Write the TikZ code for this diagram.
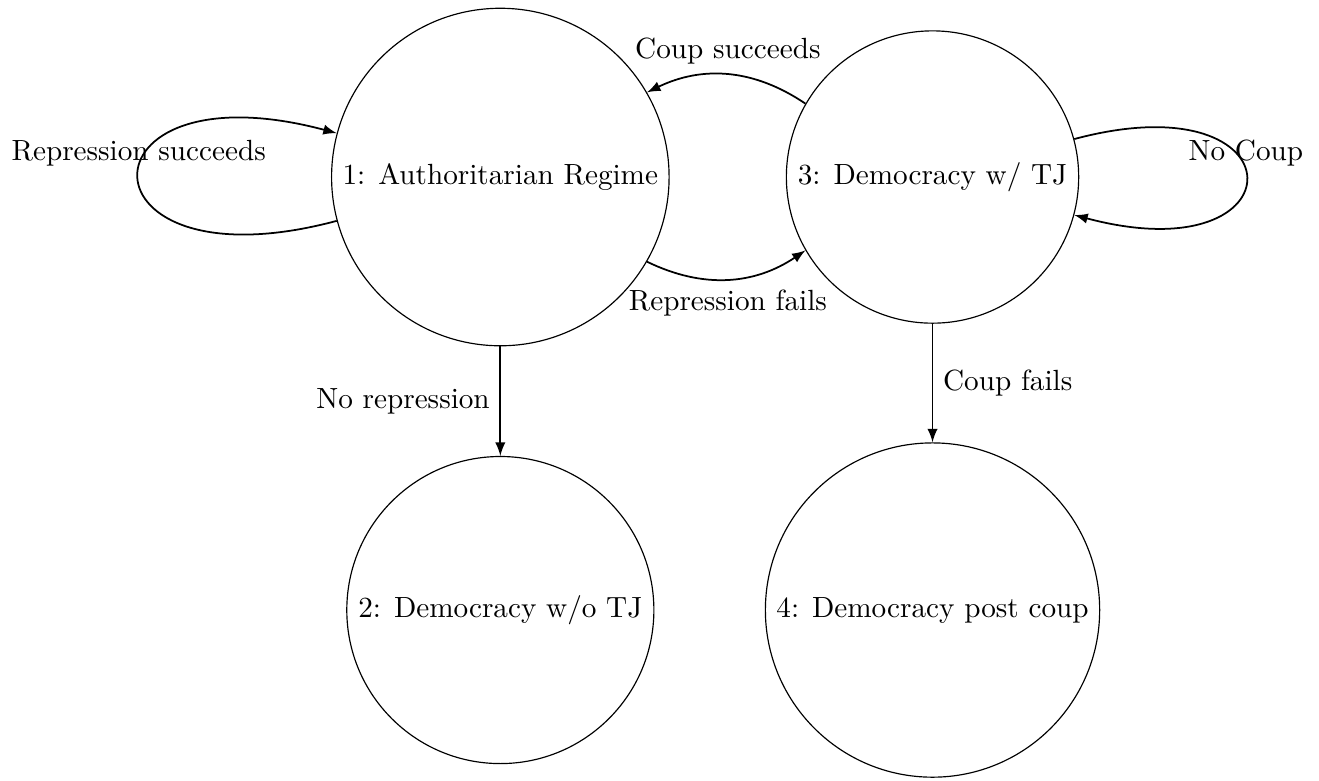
\documentclass[tikz,border=0pt]{standalone}
\usepackage{tikz}
\usetikzlibrary{arrows}
\tikzset{
  >=latex,
  % Stati del modello
  regime/.style={draw, circle},
  % Transizioni
  trans/.style={->, semithick}
}
\begin{document}
\begin{tikzpicture}
    \useasboundingbox (0,0) rectangle (15.87,-9.39);
    \node[regime] (Auth)    at (6.02,-2.13)  {1: Authoritarian Regime};
    \node[regime] (DemNoTJ) at (6.02,-7.34)  {2: Democracy w/o TJ};
    \node[regime] (DemTJ)   at (11.22,-2.13) {3: Democracy w/ TJ};
    \node[regime] (DemCoup) at (11.22,-7.34) {4: Democracy post coup};
    \draw[trans] (Auth)  to[loop left]  node[above] {Repression succeeds} (Auth);
    \draw[trans] (Auth)  -- node[left]  {No repression} (DemNoTJ);
    \draw[trans] (Auth)  to[bend right] node[below] {Repression fails} (DemTJ);
    \draw[trans] (DemTJ) to[bend right] node[above] {Coup succeeds} (Auth);
    \draw[trans] (DemTJ) to[loop right] node[above] {No Coup} (DemTJ);
    \draw[trans] (DemTJ) -- node[right] {Coup fails} (DemCoup);
\end{tikzpicture}
\end{document}
